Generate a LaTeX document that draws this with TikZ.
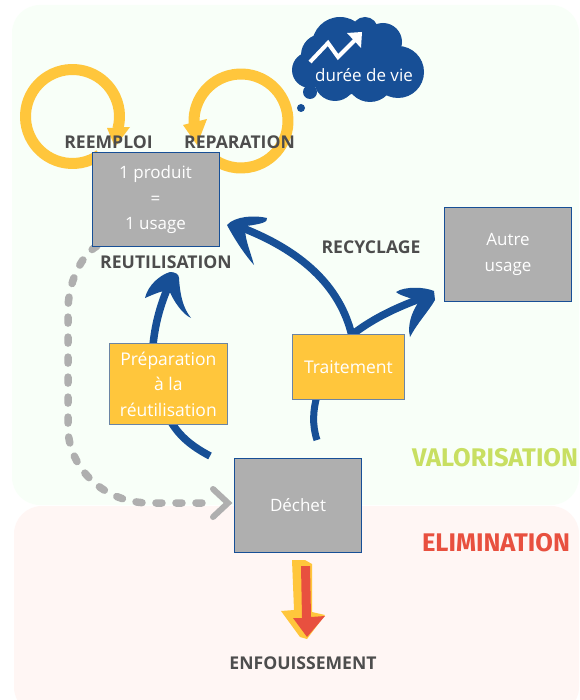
\documentclass[tikz,border=0pt]{standalone}
\usepackage{fontspec}
\setmainfont{Open Sans}
\newfontfamily\handfont{Fira Sans}
\definecolor{bgreen}{HTML}{F8FFF8}
\definecolor{bpink}{HTML}{FFF6F4}
\definecolor{bluea}{HTML}{174F96}
\definecolor{yell}{HTML}{FFC63C}
\definecolor{greyb}{HTML}{AFAFAF}
\definecolor{labelc}{HTML}{4D4D4D}
\definecolor{valo}{HTML}{C8DF62}
\definecolor{elim}{HTML}{E8503F}
\tikzset{
 x=1pt,y=-1pt,
 greybox/.style={draw=bluea,line width=1pt,fill=greyb,text=white,align=center,font=\fontsize{17}{25.5}\selectfont,inner sep=0pt,anchor=north west},
 yellbox/.style={draw=bluea!45!greyb,line width=.8pt,fill=yell,text=white,align=center,font=\fontsize{17.5}{25.5}\selectfont,inner sep=0pt,anchor=north west},
 lbl/.style={text=labelc,font=\fontsize{17.6}{18}\selectfont\bfseries,inner sep=0pt},
 hand/.style={font=\fontsize{25.5}{25.5}\selectfont\handfont\bfseries,inner sep=0pt},
 loopline/.style={draw=yell,line width=11pt},
 flow/.style={draw=bluea,line width=7.5pt},
 dashline/.style={draw=greyb,line width=7.5pt,line cap=round,dash pattern=on 6pt off 14pt},
}
\begin{document}
\begin{tikzpicture}
\useasboundingbox (0,0) rectangle (579,700);
\fill[white] (0,0) rectangle (579,700);
\fill[bgreen,rounded corners=28pt] (12,5) rectangle (579,505);
\fill[bpink,rounded corners=28pt] (14,506) rectangle (579,715);
% loops
\coordinate (l1) at (72.5,116.5);
\coordinate (l2) at (241,121);
\draw[loopline] (l1) ++(15:47) arc[start angle=15,end angle=-305,radius=47];
\fill[yell] (107,128) -- (130,127) -- (115,147) -- cycle;
\draw[loopline] (l2) ++(165:47) arc[start angle=165,end angle=490,radius=47];
\fill[yell] (183,125) -- (207,119) -- (197,145) -- cycle;
% flows
\coordinate (a1s) at (210,456);
\draw[flow] (a1s) .. controls (195,448) and (180,438) .. (170,420);
\draw[flow] (153,345) .. controls (155,325) and (160,305) .. (169,285);
\fill[bluea] (145,298) .. controls (148,285) and (160,275) .. (170,272) .. controls (175,272) and (179,274) .. (179,278) .. controls (180,295) and (183,308) .. (191,318) .. controls (182,314) and (173,300) .. (169,290) .. controls (160,291) and (150,296) .. cycle;
\coordinate (a2s) at (317,440);
\draw[flow,line width=7pt] (a2s) .. controls (312,425) and (313,410) .. (317,396);
\draw[flow] (352,336) .. controls (340,285) and (300,250) .. (240,227);
\fill[bluea] (227,225) .. controls (235,216) and (255,215) .. (267,218) .. controls (268,222) and (262,224) .. (246,226) .. controls (243,235) and (250,250) .. (254,265) .. controls (245,255) and (235,240) .. cycle;
\draw[flow] (353,334) .. controls (375,317) and (400,306) .. (425,297);
\fill[bluea] (396,292) .. controls (405,286) and (425,287) .. (434,291) -- (435,300) .. controls (428,312) and (418,322) .. (410,337) .. controls (407,325) and (412,312) .. (418,303) .. controls (412,297) and (402,297) .. cycle;
% dashed
\coordinate (d1) at (97,246);
\coordinate (d2) at (212,503);
\draw[dashline] (d1) .. controls (80,256) and (68,285) .. (68,310) -- (68,430) .. controls (70,470) and (105,503) .. (150,503) -- (d2);
\draw[greyb,line width=6pt,line cap=round,line join=miter] (213,489) -- (228,503) -- (213,517);
% boxes
\node[greybox,minimum width=127pt,minimum height=94pt] (prod) at (92,152) {};
\node[text=white,align=center,font=\fontsize{17}{25.5}\selectfont,inner sep=0pt] (prodt) at (155.5,200) {1 produit\\=\\1 usage};
\node[greybox,minimum width=127pt,minimum height=94pt] (autre) at (444,207) {Autre\\usage};
\node[greybox,minimum width=127pt,minimum height=94pt] (dechet) at (234,458) {Déchet};
\node[yellbox,minimum width=118pt,minimum height=81pt] (prep) at (109,343) {Préparation\\à la\\réutilisation};
\node[yellbox,minimum width=112pt,minimum height=65pt] (trait) at (292,334) {Traitement};
% labels
\node[lbl] (reemploi) at (108.5,142) {REEMPLOI};
\node[lbl] (repar) at (239.5,142) {REPARATION};
\node[lbl] (reutil) at (166,262) {REUTILISATION};
\node[lbl] (recy) at (371,247) {RECYCLAGE};
\node[lbl] (enf) at (303,663) {ENFOUISSEMENT};
\node[hand,text=valo] (valon) at (495,458) {VALORISATION};
\node[hand,text=elim] (elimn) at (496,543) {ELIMINATION};
% bottom arrow
\fill[yell] (292,560) -- (305,560) -- (312,564) -- (312,612) -- (325,615) -- (307,639) -- (300,637) -- (281,611) -- (294,610) -- cycle;
\fill[elim] (301,566) -- (310,566) -- (311,617) -- (325,616) -- (307,637) -- (293,618) -- (302,618) -- cycle;
% cloud
\fill[bluea] (360,47) circle[radius=25];
\fill[bluea] (330,45) circle[radius=17];
\fill[bluea] (322,55) circle[radius=21];
\fill[bluea] (365,30) circle[radius=13];
\fill[bluea] (383,42) circle[radius=19];
\fill[bluea] (340,45) circle[radius=28];
\fill[bluea] (310,70) circle[radius=18];
\fill[bluea] (335,80) circle[radius=21];
\fill[bluea] (370,78) circle[radius=24];
\fill[bluea] (398,72) circle[radius=26];
\fill[bluea] (345,70) circle[radius=25];
\fill[bluea] (310,92) circle[radius=7];
\fill[bluea] (301,108) circle[radius=4];
\draw[white,line width=4pt,line join=miter] (310,62) -- (328,43) -- (338,57) -- (355,40);
\fill[white] (347,33) -- (362,32) -- (361,48) -- cycle;
\node[text=white,font=\fontsize{17}{20}\selectfont,inner sep=0pt] (duree) at (364,75) {durée de vie};
\end{tikzpicture}
\end{document}
